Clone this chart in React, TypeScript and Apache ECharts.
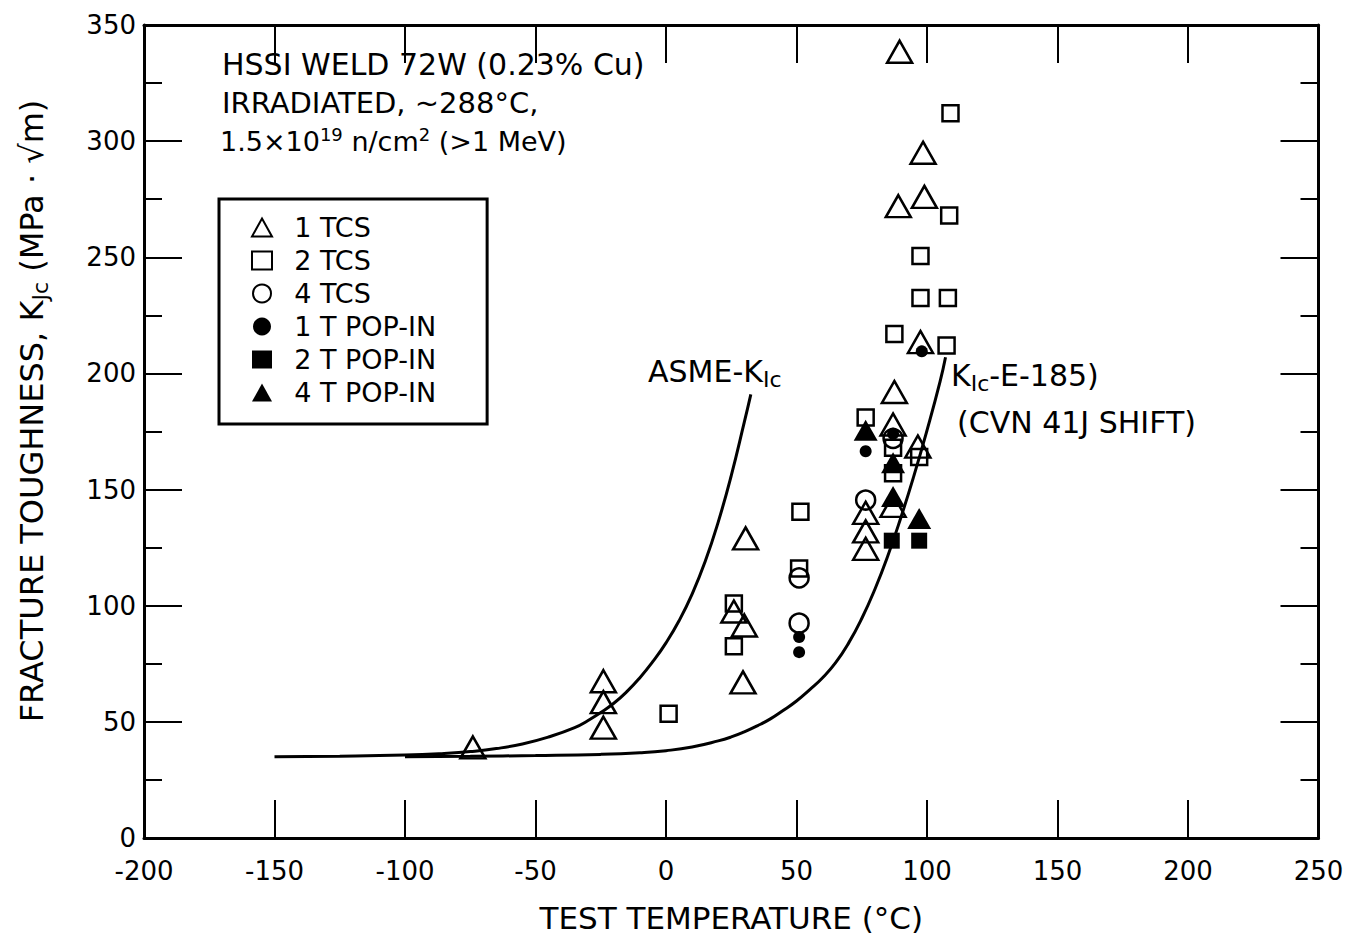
import React, { useEffect, useRef } from 'react';
import * as echarts from 'echarts';

const FONT = "'DejaVu Sans', 'Liberation Sans', sans-serif";

// Axis setup
const xMin = -200;
const xMax = 250;
const xStep = 50;
const yMin = 0;
const yMax = 350;
const yStep = 50;

const seriesNames = ['1 TCS', '2 TCS', '4 TCS', '1 T POP-IN', '2 T POP-IN', '4 T POP-IN'];

// Data: [test temperature (°C), K_Jc (MPa·√m)]
const tcs1: [number, number][] = [
  [-74, 39], [-24, 67.5], [-24, 58.5], [-24, 47.5],
  [26, 97.5], [30, 91.5], [29.5, 67], [30.5, 129],
  [76.5, 140], [76.5, 132], [76.5, 124.5],
  [87.5, 192], [87, 178], [87, 143], [96.5, 168.5], [97.5, 213.5],
  [89.5, 338.5], [98.5, 295], [89, 272], [99, 276],
];
const tcs2: [number, number][] = [
  [1, 53.5], [26, 101], [26, 82.5], [51.5, 140.5], [51, 116],
  [76.5, 181], [87, 168], [87, 157], [97, 164],
  [87.5, 217], [107.5, 212], [97.5, 232.5], [108, 232.5], [97.5, 250.5],
  [108.5, 268], [109, 312],
];
const tcs4: [number, number][] = [
  [51, 112], [51, 92.5], [76.5, 145.5], [87, 172],
];
const pop1: [number, number][] = [
  [51, 86.5], [51, 80], [76.5, 166.5], [87, 174], [98, 209.5],
];
const pop2: [number, number][] = [
  [86.5, 128], [97, 128],
];
const pop4: [number, number][] = [
  [76.5, 175.5], [87, 161.5], [87, 147], [97, 137.5],
];

// Curves
const asmeCurve: [number, number][] = [
  [-150, 35], [-125, 35.2], [-100, 35.7], [-85, 36.4], [-75, 37.2], [-65, 38.5],
  [-55, 40.5], [-45, 43.5], [-35, 47.5], [-30, 50.5], [-25, 54], [-20, 58],
  [-15, 63], [-10, 69], [-5, 76], [0, 84], [5, 93.5], [10, 105], [15, 119],
  [20, 136], [25, 156], [30, 179], [32.5, 191],
];
const e185Curve: [number, number][] = [
  [-100, 35], [-75, 35.2], [-50, 35.5], [-25, 36], [-10, 36.7], [0, 37.6],
  [10, 39.2], [20, 41.8], [25, 43.5], [30, 45.7], [35, 48.3], [40, 51.3],
  [45, 55], [50, 59], [55, 63.8], [60, 69], [65, 75.5], [70, 84], [75, 94.5],
  [80, 107], [85, 121.5], [90, 138], [95, 156], [100, 175.5], [105, 196.5], [107.1, 207],
];

const openStyle = { color: 'rgba(255,255,255,0)', borderColor: '#000', borderWidth: 2.5, opacity: 1 };
const filledStyle = { color: '#000', borderColor: '#000', borderWidth: 0, opacity: 1 };

function axisCommon() {
  return {
    axisLine: { show: true, onZero: false, lineStyle: { color: '#000', width: 3 } },
    axisTick: { show: true, inside: true, length: 38, lineStyle: { color: '#000', width: 2 } },
    splitLine: { show: false },
  };
}

export default function App() {
  const ref = useRef<HTMLDivElement>(null);

  useEffect(() => {
    if (!ref.current) return;
    const chart = echarts.init(ref.current, null, { renderer: 'svg' });

    const scatter = (name: string, data: [number, number][], symbol: string, size: any, style: any) => ({
      name,
      type: 'scatter',
      data,
      symbol,
      symbolSize: size,
      itemStyle: style,
      emphasis: { disabled: true },
      z: 3,
    });

    const curve = (name: string, data: [number, number][]) => ({
      name,
      type: 'line',
      data,
      smooth: 0.5,
      showSymbol: false,
      symbol: 'none',
      lineStyle: { color: '#000', width: 3 },
      emphasis: { disabled: true },
      z: 2,
    });

    const mkRich = (size: number) => ({
      a: { fontSize: size, fontFamily: FONT, fill: '#000' },
      sup: { fontSize: Math.round(size * 0.68), fontFamily: FONT, fill: '#000', padding: [0, 0, 14, 0] },
      sub: { fontSize: Math.round(size * 0.72), fontFamily: FONT, fill: '#000', padding: [16, 0, 0, 0] },
    });

    const textEl = (x: number, y: number, text: string, size: number) => ({
      type: 'text',
      x,
      y,
      z: 10,
      style: {
        text,
        rich: mkRich(size),
        fontSize: size,
        fontFamily: FONT,
        fill: '#000',
        align: 'left',
        textAlign: 'left',
        verticalAlign: 'middle',
        textVerticalAlign: 'middle',
      },
    });

    const option: any = {
      animation: false,
      backgroundColor: '#fff',
      textStyle: { fontFamily: FONT, color: '#000' },
      grid: { left: 144, right: 30.5, top: 25, bottom: 101, outerBoundsMode: 'none' },
      xAxis: [
        {
          type: 'value', position: 'bottom', min: xMin, max: xMax, interval: xStep,
          ...axisCommon(),
          axisLabel: { fontSize: 26, color: '#000', margin: 20, fontFamily: FONT },
          name: 'TEST TEMPERATURE (°C)',
          nameLocation: 'middle',
          nameGap: 64,
          nameTextStyle: { fontSize: 31, fontFamily: FONT, color: '#000' },
        },
        {
          type: 'value', position: 'top', min: xMin, max: xMax, interval: xStep,
          ...axisCommon(),
          axisLabel: { show: false },
        },
      ],
      yAxis: [
        {
          type: 'value', position: 'left', min: yMin, max: yMax, interval: yStep,
          ...axisCommon(),
          minorTick: { show: true, splitNumber: 2, length: 18, lineStyle: { color: '#000', width: 2 } },
          minorSplitLine: { show: false },
          axisLabel: { fontSize: 26, color: '#000', margin: 8, fontFamily: FONT },
        },
        {
          type: 'value', position: 'right', min: yMin, max: yMax, interval: yStep,
          ...axisCommon(),
          minorTick: { show: true, splitNumber: 2, length: 18, lineStyle: { color: '#000', width: 2 } },
          minorSplitLine: { show: false },
          axisLabel: { show: false },
        },
      ],
      legend: {
        data: seriesNames,
        orient: 'vertical',
        left: 219,
        top: 199,
        itemWidth: 20,
        itemHeight: 18,
        itemGap: 6,
        padding: [15, 51, 18, 32],
        borderColor: '#000',
        borderWidth: 3,
        backgroundColor: '#fff',
        selectedMode: false,
        formatter: (n: string) => '  ' + n,
        textStyle: { fontSize: 27, lineHeight: 27, fontFamily: FONT, color: '#000' },
      },
      series: [
        curve('ASME-KIc', asmeCurve),
        curve('KIc-E-185 (CVN 41J SHIFT)', e185Curve),
        scatter(seriesNames[0], tcs1, 'triangle', [25, 22], openStyle),
        scatter(seriesNames[1], tcs2, 'rect', 16, openStyle),
        scatter(seriesNames[2], tcs4, 'circle', 19, openStyle),
        scatter(seriesNames[3], pop1, 'circle', 12, filledStyle),
        scatter(seriesNames[4], pop2, 'rect', 16, filledStyle),
        scatter(seriesNames[5], pop4, 'triangle', [24, 21], filledStyle),
      ],
      graphic: [
        textEl(222, 64, 'HSSI WELD 72W (0.23% Cu)', 30),
        textEl(222, 103, 'IRRADIATED, ~288°C,', 29),
        textEl(220, 141, '{a|1.5×10}{sup|19}{a| n/cm}{sup|2}{a| (>1 MeV)}', 27),
        textEl(648, 371, '{a|ASME-K}{sub|Ic}', 30),
        textEl(951, 375, '{a|K}{sub|Ic}{a|-E-185)}', 30),
        textEl(957, 422, '(CVN 41J SHIFT)', 30),
        {
          type: 'text',
          x: 32,
          y: 411,
          rotation: Math.PI / 2,
          z: 10,
          style: {
            text: '{t|FRACTURE TOUGHNESS, K}{ts|Jc}{t| (MPa · √m)}',
            rich: {
              t: { fontSize: 32, fontFamily: FONT, fill: '#000' },
              ts: { fontSize: 22, fontFamily: FONT, fill: '#000', padding: [16, 0, 0, 0] },
            },
            fill: '#000',
            align: 'center',
            textAlign: 'center',
            verticalAlign: 'middle',
            textVerticalAlign: 'middle',
          },
        },
      ],
    };

    chart.setOption(option);
    return () => {
      chart.dispose();
    };
  }, []);

  return (
    <div
      ref={ref}
      style={{ position: 'fixed', left: 0, top: 0, width: 1349, height: 939, background: '#fff' }}
    />
  );
}
